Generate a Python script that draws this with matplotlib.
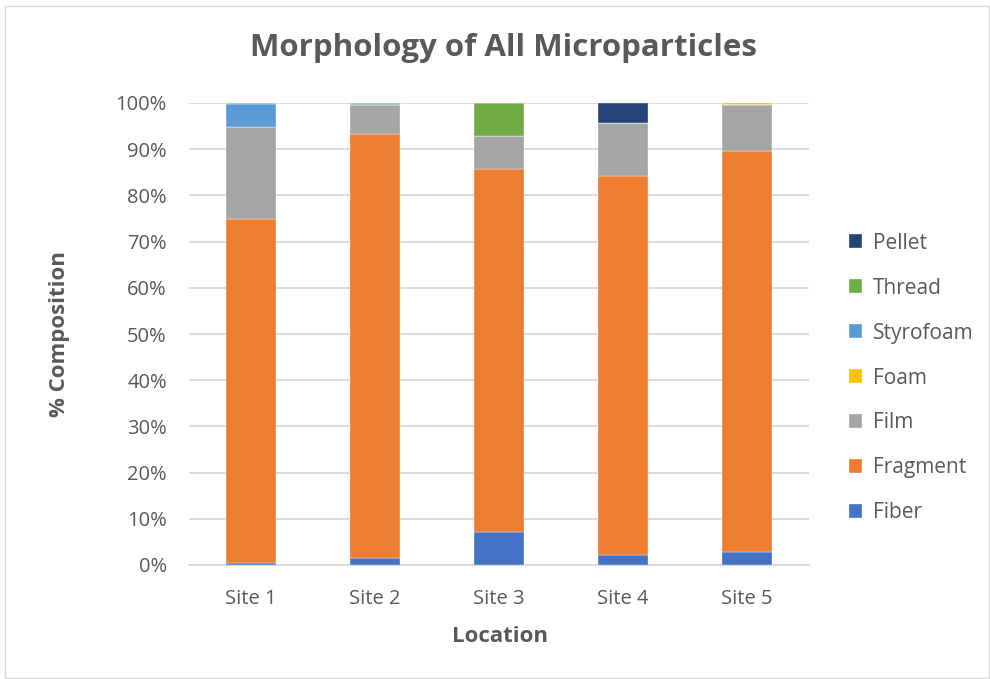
import matplotlib.pyplot as plt
from matplotlib.patches import Rectangle
from matplotlib.ticker import PercentFormatter
import numpy as np

plt.rcParams['font.family'] = ['Open Sans', 'DejaVu Sans']

sites = ['Site 1', 'Site 2', 'Site 3', 'Site 4', 'Site 5']
fiber = [0.4, 1.6, 7.2, 2.2, 2.75]
fragment = [74.6, 91.6, 78.6, 82.0, 86.95]
film = [19.7, 6.4, 7.1, 11.4, 9.8]
foam = [0.0, 0.05, 0.0, 0.0, 0.35]
styrofoam = [5.0, 0.15, 0.0, 0.0, 0.0]
thread = [0.3, 0.1, 7.1, 0.0, 0.15]
pellet = [0.0, 0.1, 0.0, 4.4, 0.0]

series = [('Fiber', fiber, '#4472C4'),
          ('Fragment', fragment, '#ED7D31'),
          ('Film', film, '#A5A5A5'),
          ('Foam', foam, '#FFC000'),
          ('Styrofoam', styrofoam, '#5B9BD5'),
          ('Thread', thread, '#70AD47'),
          ('Pellet', pellet, '#264478')]

TXT = '#595959'
GRID = '#D9D9D9'

fig = plt.figure(figsize=(9.9, 6.79), dpi=100)
ax = fig.add_axes([189/990, 1-565/679, 620/990, 462/679])

x = np.arange(len(sites))
bottom = np.zeros(len(sites))
handles = []
for name, vals, col in series:
    b = ax.bar(x, vals, 0.4, bottom=bottom, color=col, label=name,
               edgecolor='white', linewidth=0.25, zorder=3)
    bottom += np.array(vals)
    handles.append(b)

ax.set_xlim(-0.5, 4.5)
ax.set_ylim(0, 100)
ax.set_yticks(np.arange(0, 101, 10))
ax.yaxis.set_major_formatter(PercentFormatter(decimals=0))
ax.set_xticks(x)
ax.set_xticklabels(sites)
ax.grid(axis='y', color=GRID, linewidth=1.3, zorder=0)
for s in ['top', 'right', 'left']:
    ax.spines[s].set_visible(False)
ax.spines['bottom'].set_color(GRID)
ax.spines['bottom'].set_linewidth(1.3)
ax.tick_params(length=0, labelsize=14.5, colors=TXT)
ax.tick_params(axis='x', pad=17)
ax.tick_params(axis='y', pad=16)

fig.text(500/990, 1-636/679, 'Location', fontsize=16, fontweight='bold',
         color=TXT, ha='center', va='center')
fig.text(60/990, 1-334/679, '% Composition', fontsize=16, fontweight='bold',
         color=TXT, ha='center', va='center', rotation=90)
fig.text(503/990, 1-48/679, 'Morphology of All Microparticles', fontsize=22.5,
         fontweight='bold', color=TXT, ha='center', va='center')

leg = fig.legend(handles[::-1], [s[0] for s in series][::-1],
                 loc='center left', bbox_to_anchor=(830/990, 1-378/679),
                 frameon=False, fontsize=15, labelspacing=1.15,
                 handlelength=0.65, handleheight=0.65, handletextpad=0.5)
for t in leg.get_texts():
    t.set_color(TXT)

fig.patches.append(Rectangle((5/990, 0.002), 984/990, 1-7/679, transform=fig.transFigure,
                             fill=False, edgecolor=GRID, linewidth=1))

fig.savefig('out.png', dpi=100)
